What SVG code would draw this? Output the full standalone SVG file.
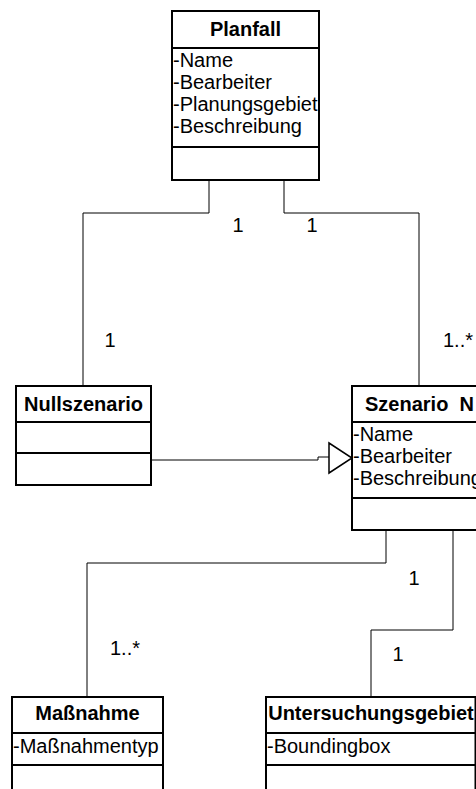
<svg xmlns="http://www.w3.org/2000/svg" width="476" height="789" viewBox="0 0 476 789">
<style>
.box{fill:#fff;stroke:#000;stroke-width:2}
.sep{stroke:#000;stroke-width:2}
.t{font-family:"Liberation Sans",Arial,sans-serif;font-size:20px;font-weight:bold;fill:#000}
.m{text-anchor:middle}
.a{font-family:"Liberation Sans",Arial,sans-serif;font-size:20px;fill:#000}
.l{font-family:"Liberation Sans",Arial,sans-serif;font-size:20px;fill:#000}
.c{fill:none;stroke:#000;stroke-width:1}
</style>
<rect width="476" height="789" fill="#fff"/>
<g id="connectors">
<path class="c" d="M209,180 V213 H83 V386"/>
<path class="c" d="M284,180 V213 H419 V386"/>
<path class="c" d="M151,460 H318 V457 H329"/>
<polygon points="329,443 329,473 352,458" fill="#fff" stroke="#000" stroke-width="1.5"/>
<path class="c" d="M386,530 V563 H87 V697"/>
<path class="c" d="M453,530 V630 H371 V697"/>
<text class="l m" x="238" y="232">1</text>
<text class="l m" x="312" y="232">1</text>
<text class="l m" x="110" y="347">1</text>
<text class="l" x="443" y="347">1..*</text>
<text class="l m" x="414" y="585">1</text>
<text class="l m" x="398" y="661">1</text>
<text class="l" x="110" y="655">1..*</text>
</g>
<g id="planfall">
<rect class="box" x="172" y="11" width="147" height="169"/>
<line class="sep" x1="172" y1="48" x2="319" y2="48"/>
<line class="sep" x1="172" y1="147" x2="319" y2="147"/>
<text class="t m" x="245.5" y="36">Planfall</text>
<text class="a" x="173" y="67">-Name</text>
<text class="a" x="173" y="89">-Bearbeiter</text>
<text class="a" x="173" y="111">-Planungsgebiet</text>
<text class="a" x="173" y="133">-Beschreibung</text>
</g>
<g id="nullszenario">
<rect class="box" x="16" y="386" width="135" height="99"/>
<line class="sep" x1="16" y1="422" x2="151" y2="422"/>
<line class="sep" x1="16" y1="453" x2="151" y2="453"/>
<text class="t m" x="83.5" y="411">Nullszenario</text>
</g>
<g id="szenario">
<rect class="box" x="352" y="386" width="140" height="144"/>
<line class="sep" x1="352" y1="422" x2="492" y2="422"/>
<line class="sep" x1="352" y1="498" x2="492" y2="498"/>
<text class="t" x="365" y="411" xml:space="preserve">Szenario  N</text>
<text class="a" x="353" y="441">-Name</text>
<text class="a" x="353" y="463">-Bearbeiter</text>
<text class="a" x="353" y="485">-Beschreibung</text>
</g>
<g id="massnahme">
<rect class="box" x="12" y="697" width="151" height="110"/>
<line class="sep" x1="12" y1="733" x2="163" y2="733"/>
<line class="sep" x1="12" y1="765" x2="163" y2="765"/>
<text class="t m" x="87.5" y="720">Maßnahme</text>
<text class="a" x="13" y="753">-Maßnahmentyp</text>
</g>
<g id="untersuchungsgebiet">
<rect class="box" x="266" y="697" width="209.5" height="110"/>
<line class="sep" x1="266" y1="733" x2="475.5" y2="733"/>
<line class="sep" x1="266" y1="765" x2="475.5" y2="765"/>
<text class="t m" x="371" y="720">Untersuchungsgebiet</text>
<text class="a" x="267" y="753">-Boundingbox</text>
</g>
</svg>
